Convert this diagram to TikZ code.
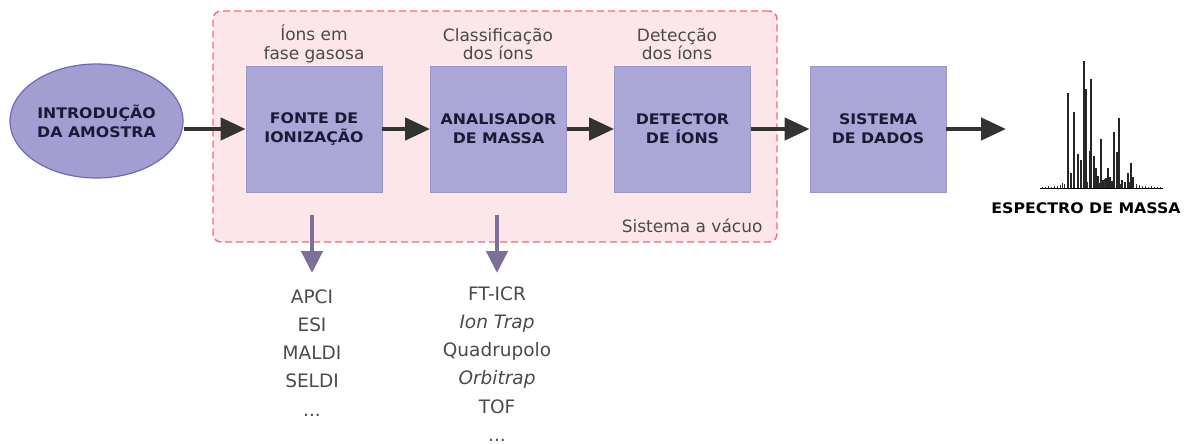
\documentclass[tikz,border=0pt]{standalone}
\usepackage{fontspec}
\setmainfont{DejaVu Sans}
\newfontfamily\boxfont[FakeStretch=1.08]{DejaVu Sans}
\usetikzlibrary{shapes.geometric,arrows.meta}
\definecolor{boxfill}{HTML}{AAA6D5}
\definecolor{boxline}{HTML}{9A96C8}
\definecolor{ellfill}{HTML}{A29ED2}
\definecolor{ellline}{HTML}{6E6AB4}
\definecolor{pinkfill}{HTML}{FDE6EA}
\definecolor{pinkline}{HTML}{EE6A80}
\definecolor{darkarrow}{HTML}{333333}
\definecolor{purparrow}{HTML}{7C7099}
\definecolor{boxtext}{HTML}{1A1A36}
\definecolor{lighttext}{HTML}{4A4A4A}
\tikzset{
  stagebox/.style={rectangle, fill=boxfill, draw=boxline, line width=0.8pt,
    minimum width=136pt, minimum height=126pt, align=center,
    font=\boxfont\fontsize{14.6}{19}\selectfont\bfseries, text=boxtext},
  startell/.style={ellipse, fill=ellfill, draw=ellline, line width=1.2pt,
    minimum width=173pt, minimum height=114pt, inner sep=0pt, align=center,
    font=\boxfont\fontsize{14.6}{19}\selectfont\bfseries, text=boxtext},
  vacbox/.style={rectangle, rounded corners=8pt, fill=pinkfill, draw=pinkline,
    line width=1.4pt, dash pattern=on 7pt off 4pt, minimum width=564pt,
    minimum height=231pt},
  toplabel/.style={align=center, font=\fontsize{17}{18.5}\selectfont, text=lighttext},
  listtext/.style={align=center, font=\fontsize{18.5}{28.2}\selectfont, text=lighttext},
  flow/.style={darkarrow, line width=4.5pt, -{Triangle[length=25pt,width=22pt]}},
  downflow/.style={purparrow, line width=4.5pt, -{Triangle[length=22pt,width=21pt]}},
  peak/.style={line width=2pt, black!85},
  smallpeak/.style={line width=1pt, black!80}
}
\begin{document}
\begin{tikzpicture}[x=1pt,y=-1pt]
\useasboundingbox (0,0) rectangle (1185,444);
\node[vacbox] (vac) at (495,126.5) {};
\node[startell] (intro) at (96.5,121) {INTRODUÇÃO\\DA AMOSTRA};
\node[stagebox] (fonte) at (314,129) {FONTE DE\\IONIZAÇÃO};
\node[stagebox] (anal) at (498.5,129) {ANALISADOR\\DE MASSA};
\node[stagebox] (det) at (682.5,129) {DETECTOR\\DE ÍONS};
\node[stagebox] (dados) at (878,129) {SISTEMA\\DE DADOS};
\coordinate (specin) at (1006,129);
\node[toplabel] (l1) at (314,44) {Íons em\\fase gasosa};
\node[toplabel] (l2) at (498,44) {Classificação\\dos íons};
\node[toplabel] (l3) at (677,44) {Detecção\\dos íons};
\node[toplabel, anchor=east] (vaclabel) at (766,226) {Sistema a vácuo};
\draw[flow] (intro.east |- fonte.west) -- (fonte.west);
\draw[flow] (fonte.east) -- (anal.west);
\draw[flow] (anal.east) -- (det.west);
\draw[flow] (det.east) -- (dados.west);
\draw[flow] (dados.east) -- (specin);
\coordinate (d1s) at (312,215);
\coordinate (d1e) at (312,273);
\coordinate (d2s) at (497,215);
\coordinate (d2e) at (497,273);
\draw[downflow] (d1s) -- (d1e);
\draw[downflow] (d2s) -- (d2e);
\node[listtext, anchor=north] (list1) at (312,286) {APCI\\ESI\\MALDI\\SELDI\\...};
\node[listtext, anchor=north] (list2) at (497,283) {FT-ICR\\\textit{Ion Trap}\\Quadrupolo\\\textit{Orbitrap}\\TOF\\...};
% spectrum
\draw[line width=1.2pt] (1040,188.3) -- (1163,188.3);
\foreach \x/\h in {1042/186.5,1045/187,1048/186,1051/186.5,1054/185.5,1057/186,1060/185,1062/183,1064/184,
  1087/182,1099/183,1102/181,1104/179,1109/180,1112/181,1116/183,1120/184,1125/183,1129/182,
  1136/184,1139/185,1142/185.5,1145/186,1148/186.5,1151/186,1154/187,1157/186.5,1160/187}
  \draw[smallpeak] (\x,188) -- (\x,\h);
\foreach \x/\h in {1067.7/93,1071/173,1074.3/112,1077.7/154,1081/160,1084/61,1085.7/89,1089.7/151,
  1091/79,1093.7/156,1096/168,1098.3/176,1100.7/139,1103/180,1105.7/178,1107.7/168,1110.3/177,1112.3/181,
  1114.3/132,1117/152,1119/118,1122.3/180,1124.5/182,1127.7/173,1131/163,1133.3/177}
  \draw[peak] (\x,188) -- (\x,\h);
\node[font=\boxfont\fontsize{14.6}{18}\selectfont\bfseries, text=black] (spec) at (1086,208) {ESPECTRO DE MASSA};
\end{tikzpicture}
\end{document}
